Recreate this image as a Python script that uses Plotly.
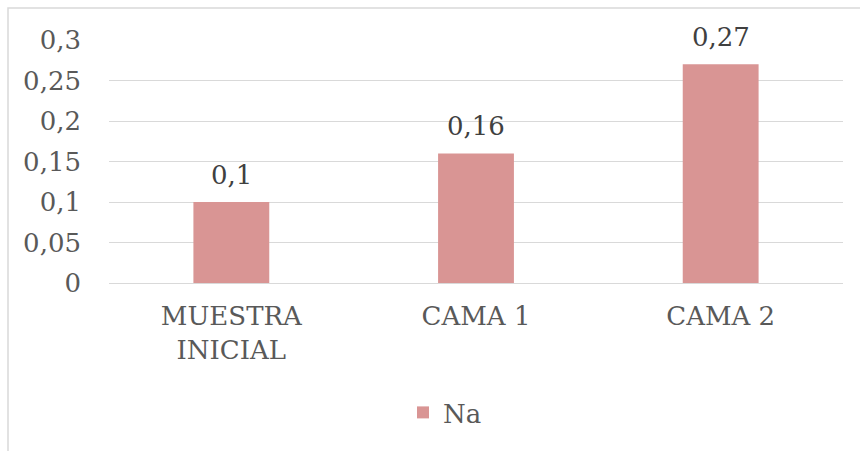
import plotly.graph_objects as go

# Sodium content per sample
categories = ["MUESTRA<br>INICIAL", "CAMA 1", "CAMA 2"]
na_values = [0.1, 0.16, 0.27]
y_ticks = [0, 0.05, 0.1, 0.15, 0.2, 0.25, 0.3]
y_tick_labels = ["0", "0,05", "0,1", "0,15", "0,2", "0,25", "0,3"]

bar_labels = [str(v).replace(".", ",") for v in na_values]

W, H = 860, 451
ML, MR, MT, MB = 109, 17, 40, 168
pw, ph = W - ML - MR, H - MT - MB
SERIF = "DejaVu Serif"
FS = 26

fig = go.Figure()
fig.add_trace(go.Bar(
    x=categories,
    y=na_values,
    name="Na",
    marker=dict(color="#D99594", line=dict(width=0)),
    width=0.31,
))

# value labels above each bar
for cat, val, lab in zip(categories, na_values, bar_labels):
    fig.add_annotation(
        x=cat, y=val, text=lab, showarrow=False,
        yanchor="bottom", yshift=10,
        font=dict(family=SERIF, size=FS, color="#404040"),
    )

# outer chart frame
fig.add_shape(
    type="rect", xref="paper", yref="paper",
    x0=(8 - ML) / pw, x1=(W + 30 - ML) / pw,
    y0=-(H + 30 - MT - ph) / ph, y1=1 + (MT - 8) / ph,
    line=dict(color="#D9D9D9", width=1.5), layer="below",
)

fig.update_layout(
    width=W, height=H,
    margin=dict(l=ML, r=MR, t=MT, b=MB, autoexpand=False),
    paper_bgcolor="white", plot_bgcolor="white",
    font=dict(family=SERIF, size=FS, color="#595959"),
    showlegend=True,
    legend=dict(
        orientation="h", xref="container", yref="container",
        x=403 / W, xanchor="left",
        y=1 - 389 / H, yanchor="top",
        font=dict(family=SERIF, size=FS, color="#595959"),
        itemwidth=30, bgcolor="rgba(0,0,0,0)",
    ),
)
fig.update_yaxes(
    range=[0, 0.3], tickvals=y_ticks, ticktext=y_tick_labels,
    showgrid=True, gridcolor="#D9D9D9", gridwidth=1.3,
    zeroline=False, showline=False, ticks="", ticklen=0,
    ticklabelstandoff=27,
    tickfont=dict(family=SERIF, size=FS, color="#595959"),
    automargin=False,
)
fig.update_xaxes(
    showgrid=False, showline=True, linecolor="#D9D9D9", linewidth=1.3,
    ticks="", ticklabelstandoff=10,
    tickfont=dict(family=SERIF, size=FS, color="#595959"),
    automargin=False,
)

fig.write_html("out.html")
